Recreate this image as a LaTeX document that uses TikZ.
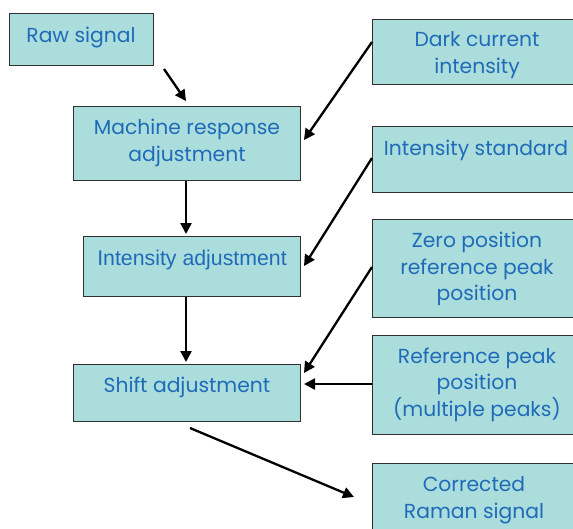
\documentclass[tikz,border=0pt]{standalone}
\usepackage{fontspec}
\setmainfont{Poppins}
\newfontfamily\arialf{Liberation Sans}
\usetikzlibrary{arrows.meta}
\definecolor{boxfill}{HTML}{ABDDDD}
\definecolor{boxline}{HTML}{303030}
\definecolor{txtblue}{HTML}{1F6BB8}
\tikzset{
  x=1pt, y=-1pt,
  box/.style={draw=boxline, line width=1pt, fill=boxfill},
  lbl/.style={text=txtblue, font=\fontsize{20.3}{26.5}\selectfont, align=center, inner sep=0pt, yshift=-2.5pt},
  conn/.style={line width=2.3pt, -{Triangle[length=11pt,width=11pt]}},
}
\begin{document}
\begin{tikzpicture}
\useasboundingbox (0,0) rectangle (573,528);
\clip (0,0) rectangle (573,528);
% boxes
\node[box, minimum width=144pt, minimum height=52pt, anchor=north west] (raw) at (9,13) {};
\node[box, minimum width=227pt, minimum height=74pt, anchor=north west] (mach) at (73,106) {};
\node[box, minimum width=217pt, minimum height=60pt, anchor=north west] (inten) at (83,236) {};
\node[box, minimum width=227pt, minimum height=57pt, anchor=north west] (shift) at (73,364) {};
\node[box, minimum width=220pt, minimum height=65pt, anchor=north west] (dark) at (372,19) {};
\node[box, minimum width=220pt, minimum height=66pt, anchor=north west] (istd) at (372,126) {};
\node[box, minimum width=220pt, minimum height=98pt, anchor=north west] (zero) at (372,219) {};
\node[box, minimum width=220pt, minimum height=99pt, anchor=north west] (refp) at (372,335) {};
\node[box, minimum width=220pt, minimum height=90pt, anchor=north west] (corr) at (372,463) {};
% labels
\node[lbl] (traw) at (81,35) {Raw signal};
\node[lbl] (tmach) at (187,140.5) {Machine response\\adjustment};
\node[lbl, font=\arialf\fontsize{21.3}{26}\selectfont] (tinten) at (192,257) {Intensity adjustment};
\node[lbl] (tshift) at (187,385) {Shift adjustment};
\node[lbl] (tdark) at (477,52.5) {Dark current\\intensity};
\node[lbl] (tistd) at (476,148) {Intensity standard};
\node[lbl] (tzero) at (477,266.5) {Zero position\\reference peak\\position};
\node[lbl] (trefp) at (477,382) {Reference peak\\position\\(multiple peaks)};
\node[lbl] (tcorr) at (474,497.5) {Corrected\\Raman signal};
% connectors
\draw[conn] ([shift={(10,3)}]raw.south east) -- ([shift={(-115,-5)}]mach.north east);
\draw[conn] ([shift={(-115,0)}]mach.south east) -- ([shift={(-115,-2)}]inten.north east);
\draw[conn] ([shift={(-115,0)}]inten.south east) -- ([shift={(-115,-2)}]shift.north east);
\draw[conn] ([shift={(0,23)}]dark.north west) -- ([shift={(3,34)}]mach.north east);
\draw[conn] ([shift={(0,32)}]istd.north west) -- ([shift={(3,30)}]inten.north east);
\draw[conn] ([shift={(0,48)}]zero.north west) -- ([shift={(3,9)}]shift.north east);
\draw[conn] ([shift={(0,49)}]refp.north west) -- ([shift={(3,20)}]shift.north east);
\draw[conn] ([shift={(117,6)}]shift.south west) -- ([shift={(-18,34)}]corr.north west);
\end{tikzpicture}
\end{document}
